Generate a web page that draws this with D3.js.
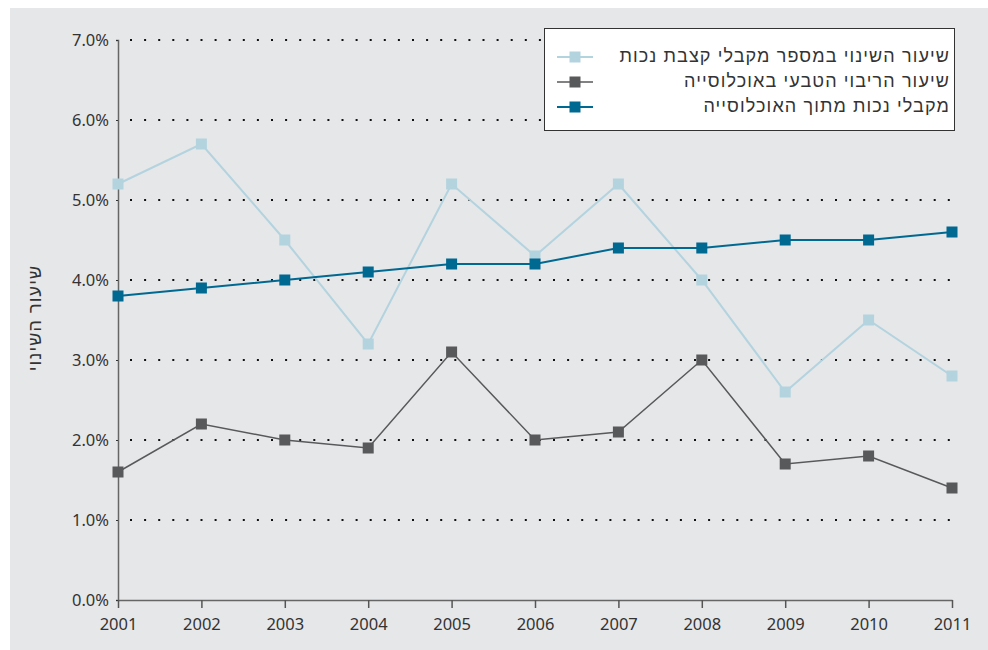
<!DOCTYPE html>
<html>
<head>
<meta charset="utf-8">
<script src="https://cdn.jsdelivr.net/npm/d3@7"></script>
<style>
  body { margin: 0; background: #fff; }
  svg { display: block; font-family: "Noto Sans", "DejaVu Sans", sans-serif; }
  .he { font-family: "Liberation Sans", "DejaVu Sans", sans-serif; letter-spacing: 1.1px; }
</style>
</head>
<body>
<svg id="chart" width="988" height="650"></svg>
<script>
// data
const years = [2001, 2002, 2003, 2004, 2005, 2006, 2007, 2008, 2009, 2010, 2011];
const recipientsChange = [5.2, 5.7, 4.5, 3.2, 5.2, 4.3, 5.2, 4.0, 2.6, 3.5, 2.8];
const naturalGrowth = [1.6, 2.2, 2.0, 1.9, 3.1, 2.0, 2.1, 3.0, 1.7, 1.8, 1.4];
const recipientsShare = [3.8, 3.9, 4.0, 4.1, 4.2, 4.2, 4.4, 4.4, 4.5, 4.5, 4.6];
const yTicks = [0, 1, 2, 3, 4, 5, 6, 7];
const seriesNames = [
    "שיעור השינוי במספר מקבלי קצבת נכות",
    "שיעור הריבוי הטבעי באוכלוסייה",
    "מקבלי נכות מתוך האוכלוסייה"
];
const yTitle = "שיעור השינוי";

const series = [
    {name: seriesNames[0], values: recipientsChange, color: "#b3d3df", width: 2},
    {name: seriesNames[1], values: naturalGrowth, color: "#58595b", width: 1.5},
    {name: seriesNames[2], values: recipientsShare, color: "#006991", width: 2}
];

const svg = d3.select("#chart");

// grey panel
svg.append("rect")
    .attr("x", 10).attr("y", 8)
    .attr("width", 978).attr("height", 642)
    .attr("fill", "#e6e7e9");

const x = d3.scaleLinear().domain([2001, 2011]).range([118, 952]);
const y = d3.scaleLinear().domain([0, 7]).range([600, 40]);

// dotted grid
svg.append("g")
    .selectAll("line")
    .data(yTicks.filter(d => d > 0))
    .join("line")
    .attr("x1", 130).attr("x2", 954)
    .attr("y1", d => y(d)).attr("y2", d => y(d))
    .attr("stroke", "#111")
    .attr("stroke-width", 2)
    .attr("stroke-dasharray", "2,12.1");

// y axis
const yAxis = svg.append("g")
    .attr("transform", "translate(118,0)")
    .call(d3.axisLeft(y).tickValues(yTicks).tickSize(2).tickPadding(7)
        .tickFormat(d => d.toFixed(1) + "%"))
    .attr("font-family", null);
yAxis.select(".domain").attr("stroke", "#666").attr("stroke-width", 1.5);
yAxis.selectAll(".tick line").attr("stroke", "#333");
yAxis.selectAll("text").attr("font-size", 16.5).attr("fill", "#333");

// x axis
const xAxis = svg.append("g")
    .attr("transform", "translate(0,600)")
    .call(d3.axisBottom(x).tickValues(years).tickSize(8).tickSizeOuter(0).tickPadding(10)
        .tickFormat(d3.format("d")))
    .attr("font-family", null);
xAxis.select(".domain").attr("stroke", "#666").attr("stroke-width", 1.5);
xAxis.selectAll(".tick line").attr("stroke", "#555").attr("stroke-width", 1.5);
xAxis.selectAll("text").attr("font-size", 16.5).attr("fill", "#333");

// y title
svg.append("text")
    .attr("class", "he")
    .attr("transform", "translate(36,318) rotate(-90)")
    .attr("text-anchor", "middle")
    .attr("dominant-baseline", "middle")
    .attr("font-size", 18)
    .attr("fill", "#333")
    .text(yTitle);

// series
const line = d3.line().x((d, i) => x(years[i])).y(d => y(d));
const ms = 11;

series.forEach(s => {
    const g = svg.append("g");
    g.append("path")
        .attr("d", line(s.values))
        .attr("fill", "none")
        .attr("stroke", s.color)
        .attr("stroke-width", s.width);
    g.selectAll("rect")
        .data(s.values)
        .join("rect")
        .attr("x", (d, i) => x(years[i]) - ms / 2)
        .attr("y", d => y(d) - ms / 2)
        .attr("width", ms).attr("height", ms)
        .attr("fill", s.color);
});

// legend
const legend = svg.append("g");
legend.append("rect")
    .attr("x", 544.5).attr("y", 28.5)
    .attr("width", 410).attr("height", 102)
    .attr("fill", "#fff")
    .attr("stroke", "#333");

series.forEach((s, i) => {
    const cy = 57 + i * 25;
    legend.append("line")
        .attr("x1", 557).attr("x2", 593)
        .attr("y1", cy).attr("y2", cy)
        .attr("stroke", s.color).attr("stroke-width", s.width);
    legend.append("rect")
        .attr("x", 575 - ms / 2).attr("y", cy - ms / 2)
        .attr("width", ms).attr("height", ms)
        .attr("fill", s.color);
    legend.append("text")
        .attr("class", "he")
        .attr("x", 950).attr("y", cy)
        .attr("text-anchor", "end")
        .attr("dominant-baseline", "middle")
        .attr("font-size", 18)
        .attr("fill", "#333")
        .text(s.name);
});
</script>
</body>
</html>
